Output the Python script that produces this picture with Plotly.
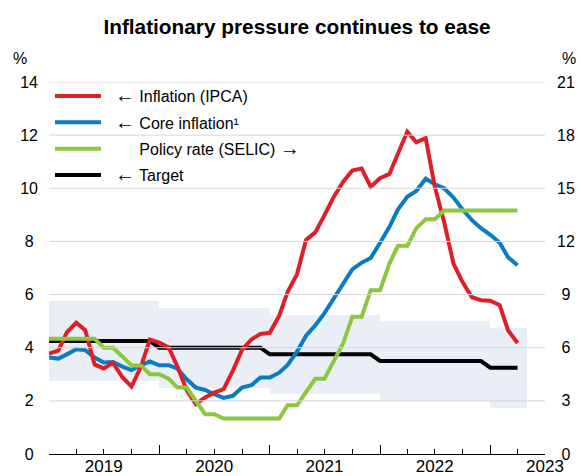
import pandas as pd
import plotly.graph_objects as go

# ---------------- data ----------------
months = pd.date_range("2019-01-01", "2023-04-01", freq="MS")

ipca = [3.78, 3.89, 4.58, 4.94, 4.66, 3.37, 3.22, 3.43, 2.89, 2.54, 3.27, 4.31,
        4.19, 4.01, 3.30, 2.40, 1.88, 2.13, 2.31, 2.44, 3.14, 3.92, 4.31, 4.52,
        4.56, 5.20, 6.10, 6.76, 8.06, 8.35, 8.99, 9.68, 10.25, 10.67, 10.74, 10.06,
        10.38, 10.54, 11.30, 12.13, 11.73, 11.89, 10.07, 8.73, 7.17, 6.47, 5.90, 5.79,
        5.77, 5.60, 4.65, 4.18]

core = [3.63, 3.59, 3.75, 3.94, 3.91, 3.63, 3.44, 3.46, 3.29, 3.16, 3.34, 3.48,
        3.34, 3.34, 3.21, 2.81, 2.50, 2.41, 2.25, 2.11, 2.19, 2.50, 2.59, 2.88,
        2.88, 3.06, 3.35, 3.85, 4.45, 4.85, 5.30, 5.85, 6.40, 6.95, 7.20, 7.38,
        7.95, 8.55, 9.20, 9.68, 9.90, 10.36, 10.15, 10.00, 9.65, 9.20, 8.80, 8.50,
        8.25, 7.95, 7.40, 7.10]

selic = [6.50, 6.50, 6.50, 6.50, 6.50, 6.50, 6.00, 6.00, 5.50, 5.00, 5.00, 4.50,
         4.50, 4.25, 3.75, 3.75, 3.00, 2.25, 2.25, 2.00, 2.00, 2.00, 2.00, 2.00,
         2.00, 2.00, 2.75, 2.75, 3.50, 4.25, 4.25, 5.25, 6.25, 7.75, 7.75, 9.25,
         9.25, 10.75, 11.75, 11.75, 12.75, 13.25, 13.25, 13.75, 13.75, 13.75, 13.75, 13.75,
         13.75, 13.75, 13.75, 13.75]

target_years = [2019, 2020, 2021, 2022, 2023]
target_values = [4.25, 4.00, 3.75, 3.50, 3.25]
tolerance = 1.5

left_ticks = [0, 2, 4, 6, 8, 10, 12, 14]
right_ticks = [0, 3, 6, 9, 12, 15, 18, 21]
year_labels = ["2019", "2020", "2021", "2022", "2023"]

ARROW_L = "<span style='font-size:20px'>\u2190</span>"
ARROW_R = "<span style='font-size:20px'>\u2192</span>"
GHOST = "<span style='font-size:20px;color:rgba(0,0,0,0)'>\u2190</span>"
LEAD = "\u00a0\u00a0"
names = [LEAD + ARROW_L + " Inflation (IPCA)",
         LEAD + ARROW_L + " Core inflation\u00b9",
         LEAD + GHOST + " Policy rate (SELIC) " + ARROW_R,
         LEAD + ARROW_L + " Target"]

# ---------------- derived ----------------
tmap = dict(zip(target_years, target_values))
target = [tmap[d.year] for d in months]
band_low = [t - tolerance for t in target]
next_months = list(months[1:]) + [months[-1] + pd.offsets.MonthBegin(1)]
band_width = [(b - a).total_seconds() * 1000 for a, b in zip(months, next_months)]

x_start = pd.Timestamp(f"{target_years[0]}-01-01")
x_end = pd.Timestamp(f"{target_years[-1]}-07-01")
year_starts = [pd.Timestamp(f"{y}-01-01") for y in target_years]
quarters = list(pd.date_range(x_start, x_end, freq="QS"))
mid_years = [pd.Timestamp(f"{y}-07-01") for y in target_years]

FONT = "Liberation Sans, Arial, sans-serif"
RED, BLUE, GREEN, BLACK = "#dd2027", "#0b7bc3", "#8dc63f", "#000000"
BAND = "#eaeef6"
GRID = "#d6d6d6"

fig = go.Figure()

fig.add_trace(go.Bar(x=months, y=[2 * tolerance] * len(months), base=band_low,
                     width=band_width, offset=0, marker=dict(color=BAND, line=dict(width=0)),
                     showlegend=False, hoverinfo="skip"))

fig.add_trace(go.Scatter(x=months, y=target, mode="lines", name=names[3],
                         line=dict(color=BLACK, width=4), legendrank=4, legendgroup="d"))
fig.add_trace(go.Scatter(x=months, y=core, mode="lines", name=names[1],
                         line=dict(color=BLUE, width=4), legendrank=2, legendgroup="b"))
fig.add_trace(go.Scatter(x=months, y=ipca, mode="lines", name=names[0],
                         line=dict(color=RED, width=4), legendrank=1, legendgroup="a"))
fig.add_trace(go.Scatter(x=months, y=selic, mode="lines", name=names[2], yaxis="y2",
                         line=dict(color=GREEN, width=4), legendrank=3, legendgroup="c"))

# helper trace carrying the year labels axis
fig.add_trace(go.Scatter(x=mid_years, y=[None] * len(mid_years), xaxis="x2", mode="markers",
                         showlegend=False, hoverinfo="skip", marker=dict(opacity=0)))

shapes = [dict(type="line", xref="paper", x0=0, x1=1, yref="y", y0=v, y1=v,
               line=dict(color=GRID, width=1), layer="above") for v in left_ticks[1:]]


def pad_left(v):
    s = str(v)
    return s if len(s) > 1 else s + "\u00a0"


def pad_right(v):
    s = str(v)
    return s if len(s) > 1 else "\u00a0" + s


fig.update_layout(
    width=581, height=476,
    margin=dict(l=49, r=36, t=82, b=22, pad=0, autoexpand=False),
    paper_bgcolor="white", plot_bgcolor="white",
    font=dict(family=FONT, color="black", size=16),
    title=dict(text="<b>Inflationary pressure continues to ease</b>", x=0.5, xref="paper",
               xanchor="center", y=1 - 27 / 476, yref="container", yanchor="middle",
               font=dict(size=20.8, family=FONT, color="black")),
    showlegend=True,
    legend=dict(x=0.002, y=1.008, xanchor="left", yanchor="top", bgcolor="rgba(0,0,0,0)",
                font=dict(size=16, family=FONT), traceorder="grouped", tracegroupgap=2.6,
                itemwidth=46),
    bargap=0,
    xaxis=dict(type="date", range=[x_start, x_end], tickmode="array", tickvals=year_starts,
               showticklabels=False, ticks="inside", ticklen=9, tickwidth=1, tickcolor="black",
               showline=True, linecolor="black", linewidth=1, showgrid=False, zeroline=False,
               automargin=False,
               minor=dict(tickmode="array", tickvals=quarters, ticks="inside", ticklen=5,
                          tickwidth=1, tickcolor="black", showgrid=False)),
    xaxis2=dict(type="date", overlaying="x", anchor="y", side="bottom", range=[x_start, x_end],
                tickmode="array", tickvals=mid_years, ticktext=year_labels, ticks="",
                showline=False, showgrid=False, zeroline=False, automargin=False,
                ticklabelstandoff=0, tickfont=dict(size=17)),
    yaxis=dict(range=[0, 14], tickmode="array", tickvals=left_ticks,
               ticktext=[pad_left(v) for v in left_ticks], ticks="", showgrid=False,
               zeroline=False, showline=False, ticklabelstandoff=10, automargin=False,
               tickfont=dict(size=16)),
    yaxis2=dict(range=[0, 21], overlaying="y", side="right", anchor="x", tickmode="array",
                tickvals=right_ticks, ticktext=[pad_right(v) for v in right_ticks], ticks="",
                showgrid=False, zeroline=False, showline=False, ticklabelstandoff=11,
                automargin=False, tickfont=dict(size=16)),
    shapes=shapes,
    annotations=[
        dict(text="%", xref="paper", yref="paper", x=(20 - 49) / 496, y=(454 - 58) / 372,
             xanchor="center", yanchor="middle", showarrow=False, font=dict(size=16)),
        dict(text="%", xref="paper", yref="paper", x=(569 - 49) / 496, y=(454 - 58) / 372,
             xanchor="center", yanchor="middle", showarrow=False, font=dict(size=16)),
    ],
)

fig.write_html("out.html", config={"displayModeBar": False},
               post_script="document.body.style.margin='0px';document.body.style.overflow='hidden';")
